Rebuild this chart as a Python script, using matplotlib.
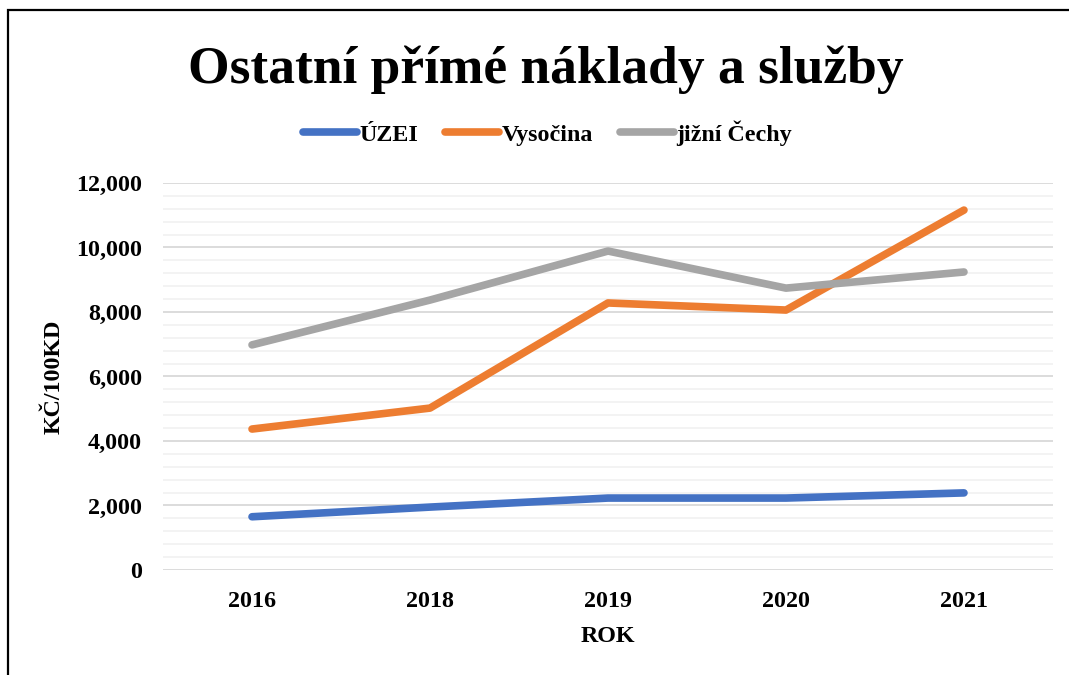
import matplotlib
matplotlib.use('Agg')
import matplotlib.pyplot as plt
from matplotlib.patches import Rectangle
from matplotlib.ticker import MultipleLocator, FuncFormatter

plt.rcParams['font.family'] = ['Liberation Serif', 'DejaVu Serif']
plt.rcParams['font.weight'] = 'bold'

# data
years = ['2016', '2018', '2019', '2020', '2021']
uzei = [1650, 1950, 2230, 2230, 2390]
vysocina = [4370, 5020, 8280, 8060, 11160]
jizni_cechy = [6980, 8370, 9890, 8740, 9240]

series = [
    ('ÚZEI', uzei, '#4472C4'),
    ('Vysočina', vysocina, '#ED7D31'),
    ('jižní Čechy', jizni_cechy, '#A5A5A5'),
]

FS = 17.3

fig = plt.figure(figsize=(10.69, 6.75), dpi=100)
fig.patch.set_facecolor('white')
ax = fig.add_axes([0.1525, 0.1556, 0.8325, 0.5733])

x = range(len(years))
for name, vals, c in series:
    ax.plot(x, vals, color=c, lw=5.5, label=name,
            solid_capstyle='round', solid_joinstyle='round', zorder=3)

ax.set_xlim(-0.5, len(years) - 0.5)
ax.set_ylim(0, 12000)
ax.set_xticks(list(x))
ax.set_xticklabels(years)
ax.yaxis.set_major_locator(MultipleLocator(2000))
ax.yaxis.set_minor_locator(MultipleLocator(400))
ax.yaxis.set_major_formatter(FuncFormatter(lambda v, p: f'{int(v):,}'))
ax.grid(which='major', axis='y', color='#D9D9D9', lw=1.3, zorder=0)
ax.grid(which='minor', axis='y', color='#F2F2F2', lw=1.3, zorder=0)
for s in ax.spines.values():
    s.set_visible(False)
ax.tick_params(axis='both', which='both', length=0, labelsize=FS)
ax.tick_params(axis='y', pad=15)
ax.tick_params(axis='x', pad=15)
for lab in ax.get_xticklabels() + ax.get_yticklabels():
    lab.set_fontweight('bold')

ax.set_xlabel('ROK', fontsize=FS, fontweight='bold', labelpad=10)
ax.set_ylabel('KČ/100KD', fontsize=FS, fontweight='bold', labelpad=8)

fig.text(0.511, 0.897, 'Ostatní přímé náklady a služby', ha='center', va='center',
         fontsize=38.5, fontweight='bold')

leg = fig.legend(loc='center', bbox_to_anchor=(0.512, 0.803), ncol=3, frameon=False,
                 fontsize=FS, handlelength=2.25, handletextpad=0.12, columnspacing=1.1)
for h in leg.get_lines():
    h.set_linewidth(5.5)
    h.set_solid_capstyle('round')

# outer border (chart frame running off the page on right/bottom)
fig.patches.append(Rectangle((8 / 1069, -0.05), 1.2, (675 - 10) / 675 + 0.05,
                             transform=fig.transFigure, fill=False,
                             edgecolor='black', lw=1.6))

fig.savefig('out.png', dpi=100, facecolor='white')
